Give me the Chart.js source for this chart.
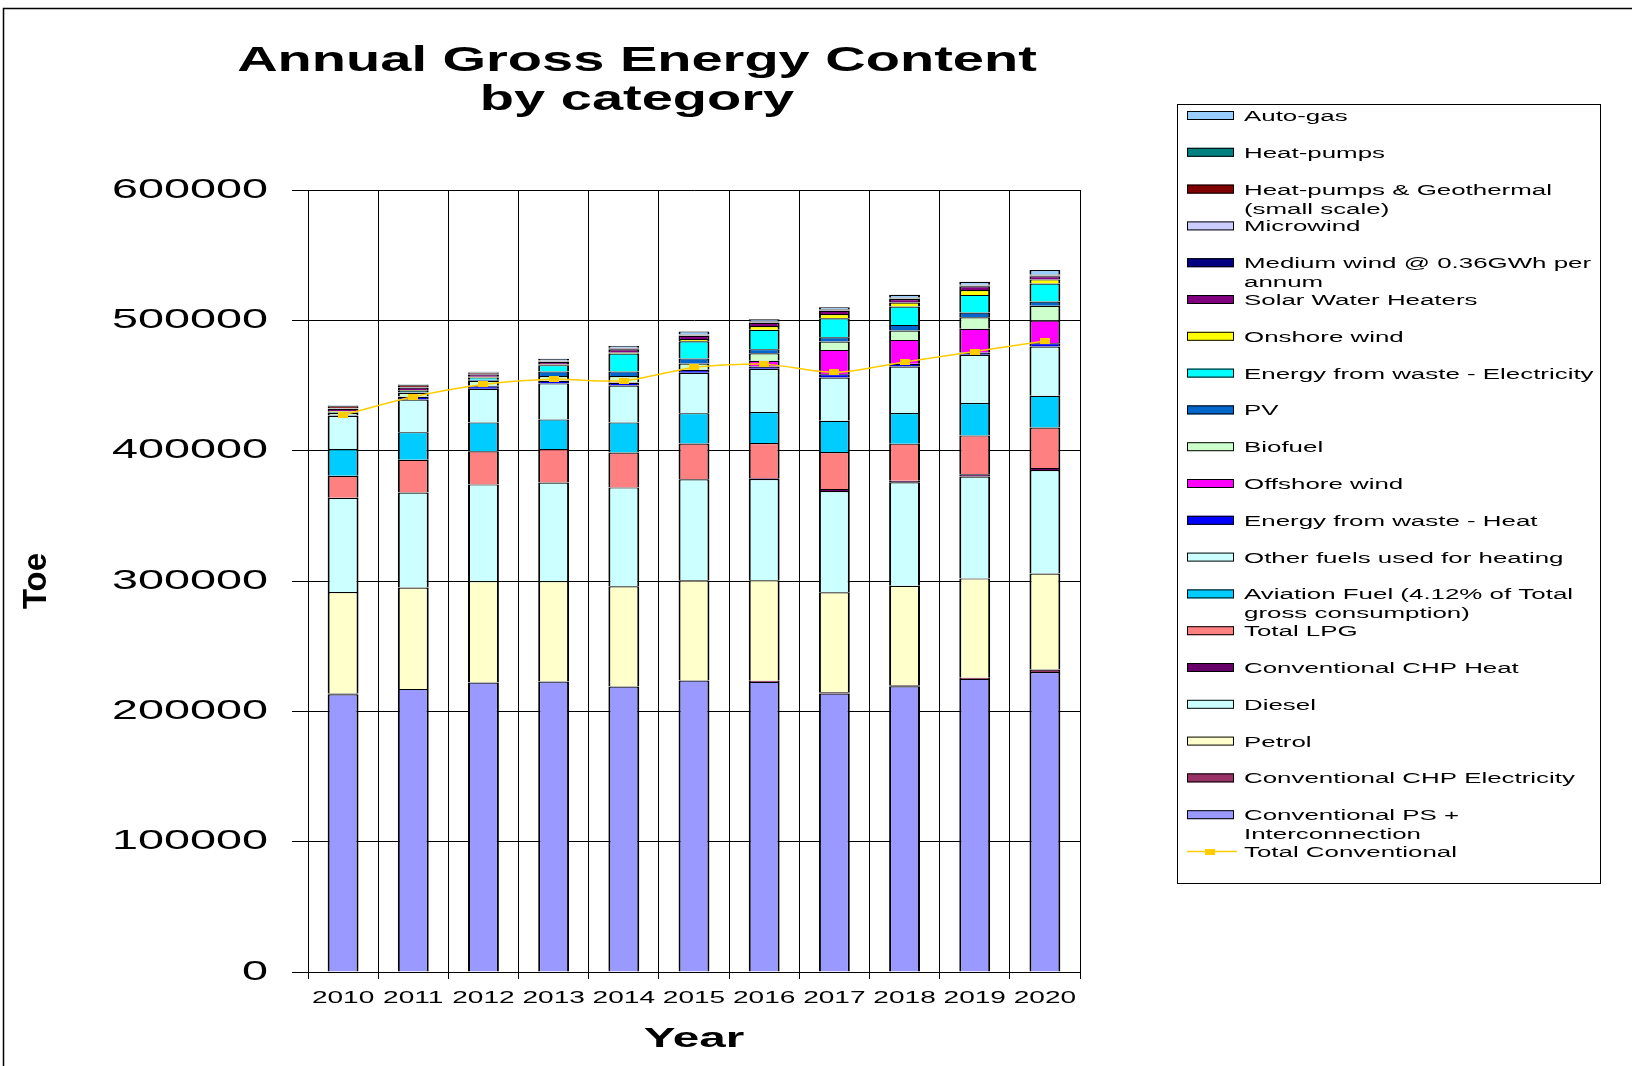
<!DOCTYPE html>
<html>
<head>
<meta charset="utf-8">
<title>Annual Gross Energy Content by category</title>
<script src="https://cdn.jsdelivr.net/npm/chart.js@4.4.1/dist/chart.umd.min.js"></script>
<style>
    html, body { margin: 0; padding: 0; background: #fff; }
    canvas { display: block; }
</style>
</head>
<body>
<canvas id="energyChart" width="1632" height="1066"></canvas>
<script>
// Tonnes of oil equivalent per year, bottom of the stack first
const years = ['2010', '2011', '2012', '2013', '2014', '2015', '2016', '2017', '2018', '2019', '2020'];

const psInterconnection = [213100, 217200, 222100, 222900, 219000, 223600, 222600, 213600, 219300, 224900, 230200];
const chpElectricity    = [500, 0, 0, 0, 0, 0, 800, 1000, 800, 800, 1900];
const petrol            = [78000, 77800, 77800, 77000, 77000, 77000, 77250, 76700, 76300, 76300, 73600];
const diesel            = [72200, 72900, 74200, 75700, 75800, 77500, 77650, 77800, 79300, 78100, 79500];
const chpHeat           = [0, 0, 0, 0, 0, 0, 500, 1500, 1200, 1900, 1500];
const totalLpg          = [16900, 25100, 25500, 25600, 26800, 27400, 27100, 28400, 28500, 29700, 31100];
const aviationFuel      = [20500, 21200, 22100, 22800, 23100, 23300, 23700, 24000, 23500, 24800, 24300];
const otherHeatingFuels = [25500, 25100, 25800, 27600, 28300, 30900, 33200, 33100, 35700, 37000, 37800];
const efwHeat           = [400, 2000, 2000, 2000, 2100, 2100, 1800, 2600, 2000, 1800, 2600];
const offshoreWind      = [0, 200, 300, 300, 300, 300, 4300, 18600, 18400, 18200, 17300];
const biofuel           = [1800, 2900, 3800, 3300, 4800, 4800, 5900, 6400, 7200, 8900, 11300];
const pv                = [300, 500, 900, 3600, 3600, 3900, 3100, 3300, 4300, 3600, 3300];
const efwElectricity    = [500, 800, 1700, 4800, 13800, 13200, 14800, 14600, 14100, 13500, 13900];
const onshoreWind       = [600, 700, 500, 600, 700, 1600, 3000, 3300, 3100, 3800, 3100];
const solarWaterHeaters = [1800, 2000, 1800, 1800, 2500, 2500, 2500, 2500, 2600, 2800, 2500];
const mediumWind        = [200, 300, 300, 300, 300, 300, 300, 300, 300, 300, 300];
const microwind         = [200, 200, 200, 300, 300, 300, 300, 300, 300, 300, 300];
const heatPumpsGeo      = [1500, 1200, 800, 300, 300, 300, 300, 300, 300, 300, 300];
const heatPumps         = [300, 300, 300, 300, 300, 300, 300, 300, 300, 300, 300];
const autoGas           = [400, 400, 400, 1300, 1400, 2200, 1500, 1400, 2100, 2300, 3500];

const totalConventional = [427300, 441300, 450800, 454700, 453600, 463900, 466400, 460000, 468000, 476000, 484200];

const yTickValues = [0, 100000, 200000, 300000, 400000, 500000, 600000];

const titleLines = ['Annual Gross Energy Content', 'by category'];

const FONT = '"Liberation Sans", Arial, sans-serif';
const AXIS_STRETCH = 1.7;

// Wide, flattened lettering: scale glyphs horizontally around their anchor.
// Rotated text (the y axis title) is left as is.
function stretchText(ctx, factor) {
    const fillText = ctx.fillText;
    const measureText = ctx.measureText;
    ctx.textStretch = factor;
    ctx.fillText = function (text, x, y) {
        const m = this.getTransform();
        if (Math.abs(m.b) > 1e-6 || this.textStretch === 1) {
            return fillText.call(this, text, x, y);
        }
        this.save();
        this.translate(x, y);
        this.scale(this.textStretch, 1);
        fillText.call(this, text, 0, 0);
        this.restore();
    };
    ctx.measureText = function (text) {
        const m = measureText.call(this, text);
        return {
            width: m.width * this.textStretch,
            actualBoundingBoxLeft: m.actualBoundingBoxLeft * this.textStretch,
            actualBoundingBoxRight: m.actualBoundingBoxRight * this.textStretch,
            actualBoundingBoxAscent: m.actualBoundingBoxAscent,
            actualBoundingBoxDescent: m.actualBoundingBoxDescent
        };
    };
}

function wrapWords(ctx, text, maxWidth) {
    const words = text.split(' ');
    const lines = [];
    let line = '';
    words.forEach(w => {
        const test = line ? line + ' ' + w : w;
        if (line && ctx.measureText(test).width > maxWidth) {
            lines.push(line);
            line = w;
        } else {
            line = test;
        }
    });
    lines.push(line);
    return lines;
}

// small flat square used for the Total Conventional markers
function makeMarker(w, h, colour) {
    const c = document.createElement('canvas');
    c.width = w;
    c.height = h;
    const mctx = c.getContext('2d');
    mctx.fillStyle = colour;
    mctx.fillRect(0, 0, w, h);
    return c;
}
const marker = makeMarker(10, 6, '#FFCC00');

function barSet(label, data, colour) {
    return {
        type: 'bar',
        label: label,
        data: data,
        backgroundColor: colour,
        borderColor: '#000',
        borderWidth: {top: 1.2, left: 2, right: 2, bottom: 0},
        borderSkipped: false,
        barPercentage: 0.44,
        categoryPercentage: 1,
        order: 1
    };
}

const datasets = [
    barSet('Conventional PS + Interconnection', psInterconnection, '#9999FF'),
    barSet('Conventional CHP Electricity', chpElectricity, '#993366'),
    barSet('Petrol', petrol, '#FFFFCC'),
    barSet('Diesel', diesel, '#CCFFFF'),
    barSet('Conventional CHP Heat', chpHeat, '#660066'),
    barSet('Total LPG', totalLpg, '#FF8080'),
    barSet('Aviation Fuel (4.12% of Total gross consumption)', aviationFuel, '#00CCFF'),
    barSet('Other fuels used for heating', otherHeatingFuels, '#CCFFFF'),
    barSet('Energy from waste - Heat', efwHeat, '#0000FF'),
    barSet('Offshore wind', offshoreWind, '#FF00FF'),
    barSet('Biofuel', biofuel, '#CCFFCC'),
    barSet('PV', pv, '#0066CC'),
    barSet('Energy from waste - Electricity', efwElectricity, '#00FFFF'),
    barSet('Onshore wind', onshoreWind, '#FFFF00'),
    barSet('Solar Water Heaters', solarWaterHeaters, '#800080'),
    barSet('Medium wind @ 0.36GWh per annum', mediumWind, '#000080'),
    barSet('Microwind', microwind, '#CCCCFF'),
    barSet('Heat-pumps & Geothermal (small scale)', heatPumpsGeo, '#800000'),
    barSet('Heat-pumps', heatPumps, '#008080'),
    barSet('Auto-gas', autoGas, '#99CCFF'),
    {
        type: 'line',
        label: 'Total Conventional',
        data: totalConventional,
        stack: 'total',
        borderColor: '#FFCC00',
        borderWidth: 1.5,
        tension: 0.25,
        pointStyle: marker,
        pointRadius: 5,
        order: 0
    }
];

// outer frame, heading and the boxed key on the right
const decorations = {
    id: 'decorations',
    beforeDraw(chart) {
        const ctx = chart.ctx;
        ctx.save();
        ctx.fillStyle = '#fff';
        ctx.fillRect(0, 0, chart.width, chart.height);
        ctx.strokeStyle = '#000';
        ctx.lineWidth = 1.5;
        ctx.strokeRect(3.5, 8.5, chart.width + 20, chart.height + 20);
        ctx.restore();
    },
    afterDraw(chart) {
        const ctx = chart.ctx;
        ctx.save();

        // heading
        ctx.fillStyle = '#000';
        ctx.textAlign = 'center';
        ctx.textBaseline = 'alphabetic';
        ctx.font = 'bold 35px ' + FONT;
        ctx.textStretch = 1.6;
        ctx.fillText(titleLines[0], 637, 71);
        ctx.fillText(titleLines[1], 637, 110);

        // key
        const box = {left: 1177, top: 104, right: 1600, bottom: 883};
        ctx.strokeStyle = '#000';
        ctx.lineWidth = 1;
        ctx.strokeRect(box.left + 0.5, box.top + 0.5, box.right - box.left, box.bottom - box.top);

        ctx.font = '15.5px ' + FONT;
        ctx.textStretch = 1.67;
        ctx.textAlign = 'left';
        const rowStep = 36.8;
        let cy = 115.5;
        const bars = chart.data.datasets.filter(d => d.type === 'bar').reverse();
        bars.forEach(d => {
            ctx.fillStyle = d.backgroundColor;
            ctx.fillRect(1187, cy - 4.5, 47, 9);
            ctx.strokeStyle = '#000';
            ctx.lineWidth = 1;
            ctx.strokeRect(1187.5, cy - 4, 46, 8);
            ctx.fillStyle = '#000';
            wrapWords(ctx, d.label, 362).forEach((line, i) => {
                ctx.fillText(line, 1244, cy + 5.5 + i * 19);
            });
            cy += rowStep;
        });
        const totalSet = chart.data.datasets.find(d => d.type === 'line');
        ctx.strokeStyle = totalSet.borderColor;
        ctx.lineWidth = 1.5;
        ctx.beginPath();
        ctx.moveTo(1187, cy);
        ctx.lineTo(1237, cy);
        ctx.stroke();
        ctx.drawImage(marker, 1205, cy - 3);
        ctx.fillStyle = '#000';
        ctx.fillText(totalSet.label, 1244, cy + 5.5);

        ctx.textStretch = AXIS_STRETCH;
        ctx.restore();
    }
};

Chart.defaults.font.family = FONT;
Chart.defaults.color = '#000';

const canvas = document.getElementById('energyChart');
const ctx = canvas.getContext('2d');
stretchText(ctx, AXIS_STRETCH);

new Chart(ctx, {
    type: 'bar',
    data: {labels: years, datasets: datasets},
    plugins: [decorations],
    options: {
        responsive: false,
        animation: false,
        events: [],
        layout: {padding: {left: 10, right: 552, top: 190, bottom: 0}},
        plugins: {
            legend: {display: false},
            title: {display: false},
            tooltip: {enabled: false}
        },
        scales: {
            x: {
                stacked: true,
                grid: {color: '#000', lineWidth: 1, offset: true, tickLength: 7, tickColor: '#000'},
                border: {color: '#000', width: 1},
                ticks: {font: {size: 16.5}, padding: 10, maxRotation: 0, autoSkip: false},
                title: {display: true, text: 'Year', font: {size: 28, weight: 'bold'}, padding: {top: 0, bottom: 10}},
                afterFit(scale) { scale.height = 94; }
            },
            y: {
                stacked: true,
                min: 0,
                max: 600000,
                afterBuildTicks(scale) { scale.ticks = yTickValues.map(v => ({value: v})); },
                grid: {color: '#000', lineWidth: 1, tickLength: 16, tickColor: '#000'},
                border: {color: '#000', width: 1},
                ticks: {font: {size: 27.5}, padding: 24, callback: v => String(v)},
                title: {display: true, text: 'Toe', font: {size: 33, weight: 'bold'}, padding: {top: 7, bottom: 0}},
                afterFit(scale) { scale.width = 298; }
            }
        }
    }
});
</script>
</body>
</html>
